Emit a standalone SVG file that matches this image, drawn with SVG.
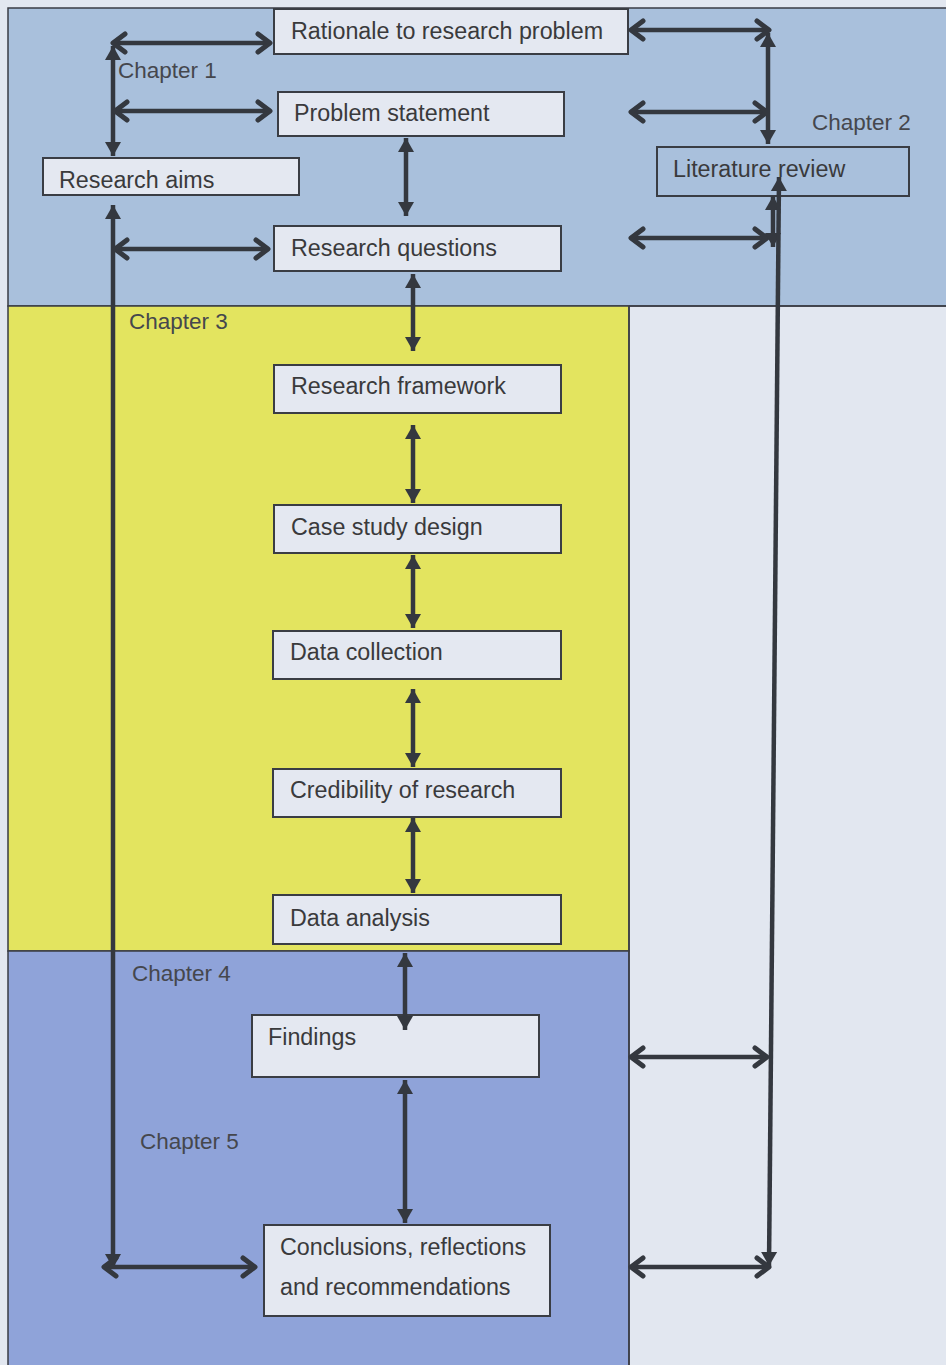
<svg xmlns="http://www.w3.org/2000/svg" width="946" height="1365" viewBox="0 0 946 1365">
  <style>
    .panel { stroke: #3a3d44; stroke-width: 1.5; }
    .box { fill: #e4e8f1; stroke: #3a3d44; stroke-width: 2; }
    .box-open { fill: none; stroke: #3a3d44; stroke-width: 2; }
    .label { font-family: "Liberation Sans", Arial, sans-serif; font-size: 23.3px; fill: #3a3a3c; }
    .chapter { font-family: "Liberation Sans", Arial, sans-serif; font-size: 22.5px; fill: #45474d; }
    .link { fill: none; stroke: #34383f; stroke-width: 4.5; }
    .vlink { fill: none; stroke: #34383f; stroke-width: 4.5; }
  </style>
  <defs>
    <!-- open chevron head, used on the horizontal links -->
    <marker id="chev" viewBox="-16 -12 19 24" refX="0" refY="0" markerWidth="19" markerHeight="24" markerUnits="userSpaceOnUse" orient="auto-start-reverse">
      <path d="M -12 -9 L 0 0 L -12 9" fill="none" stroke="#34383f" stroke-width="5" stroke-linecap="round" stroke-linejoin="round"/>
    </marker>
    <!-- solid triangular head, used on the vertical links -->
    <marker id="tri" viewBox="-15 -9 16 18" refX="0" refY="0" markerWidth="16" markerHeight="18" markerUnits="userSpaceOnUse" orient="auto-start-reverse">
      <path d="M -14 -8 L 0 0 L -14 8 Z" fill="#34383f"/>
    </marker>
  </defs>

  <!-- page and chapter panels -->
  <g id="panels">
    <rect x="0" y="0" width="946" height="1365" fill="#e2e7f0"/>
    <rect x="8" y="8" width="950" height="298" fill="#a9c0dc" class="panel"/>
    <rect x="8" y="306" width="621" height="645" fill="#e3e45f" class="panel"/>
    <rect x="8" y="951" width="621" height="420" fill="#8fa3d9" class="panel"/>
    <line x1="629" y1="306" x2="629" y2="1365" class="panel"/>
    <line x1="629" y1="306" x2="946" y2="306" class="panel"/>
  </g>

  <g id="chapter-labels">
    <text x="118" y="78" class="chapter">Chapter 1</text>
    <text x="812" y="130" class="chapter">Chapter 2</text>
    <text x="129" y="329" class="chapter">Chapter 3</text>
    <text x="132" y="981" class="chapter">Chapter 4</text>
    <text x="140" y="1149" class="chapter">Chapter 5</text>
  </g>

  <!-- nodes -->
  <g id="rationale">
    <rect x="274" y="9" width="354" height="45" class="box"/>
    <text x="291" y="39" class="label">Rationale to research problem</text>
  </g>
  <g id="problem-statement">
    <rect x="278" y="92" width="286" height="44" class="box"/>
    <text x="294" y="121" class="label">Problem statement</text>
  </g>
  <g id="research-aims">
    <rect x="43" y="158" width="256" height="37" class="box"/>
    <text x="59" y="188" class="label">Research aims</text>
  </g>
  <g id="literature-review">
    <rect x="657" y="147" width="252" height="49" class="box-open"/>
    <text x="673" y="177" class="label">Literature review</text>
  </g>
  <g id="research-questions">
    <rect x="274" y="226" width="287" height="45" class="box"/>
    <text x="291" y="256" class="label">Research questions</text>
  </g>
  <g id="research-framework">
    <rect x="274" y="365" width="287" height="48" class="box"/>
    <text x="291" y="394" class="label">Research framework</text>
  </g>
  <g id="case-study-design">
    <rect x="274" y="505" width="287" height="48" class="box"/>
    <text x="291" y="535" class="label">Case study design</text>
  </g>
  <g id="data-collection">
    <rect x="273" y="631" width="288" height="48" class="box"/>
    <text x="290" y="660" class="label">Data collection</text>
  </g>
  <g id="credibility">
    <rect x="273" y="769" width="288" height="48" class="box"/>
    <text x="290" y="798" class="label">Credibility of research</text>
  </g>
  <g id="data-analysis">
    <rect x="273" y="895" width="288" height="49" class="box"/>
    <text x="290" y="926" class="label">Data analysis</text>
  </g>
  <g id="findings">
    <rect x="252" y="1015" width="287" height="62" class="box"/>
    <text x="268" y="1045" class="label">Findings</text>
  </g>
  <g id="conclusions">
    <rect x="264" y="1225" width="286" height="91" class="box"/>
    <text x="280" y="1255" class="label">Conclusions, reflections</text>
    <text x="280" y="1295" class="label">and recommendations</text>
  </g>

  <!-- connectors, drawn over the boxes so heads that touch a box stay visible -->
  <g id="connectors">
    <!-- chapter 1 spine -->
    <line x1="113" y1="43" x2="270" y2="43" class="link" marker-start="url(#chev)" marker-end="url(#chev)"/>
    <line x1="113" y1="46" x2="113" y2="156" class="vlink" marker-start="url(#tri)" marker-end="url(#tri)"/>
    <line x1="115" y1="111" x2="270" y2="111" class="link" marker-start="url(#chev)" marker-end="url(#chev)"/>
    <line x1="115" y1="249" x2="268" y2="249" class="link" marker-start="url(#chev)" marker-end="url(#chev)"/>
    <line x1="113" y1="205" x2="113" y2="1268" class="vlink" marker-start="url(#tri)" marker-end="url(#tri)"/>
    <line x1="104" y1="1267" x2="255" y2="1267" class="link" marker-start="url(#chev)" marker-end="url(#chev)"/>

    <!-- central chain -->
    <line x1="406" y1="138" x2="406" y2="216" class="vlink" marker-start="url(#tri)" marker-end="url(#tri)"/>
    <line x1="413" y1="274" x2="413" y2="351" class="vlink" marker-start="url(#tri)" marker-end="url(#tri)"/>
    <line x1="413" y1="425" x2="413" y2="503" class="vlink" marker-start="url(#tri)" marker-end="url(#tri)"/>
    <line x1="413" y1="555" x2="413" y2="628" class="vlink" marker-start="url(#tri)" marker-end="url(#tri)"/>
    <line x1="413" y1="689" x2="413" y2="767" class="vlink" marker-start="url(#tri)" marker-end="url(#tri)"/>
    <line x1="413" y1="818" x2="413" y2="893" class="vlink" marker-start="url(#tri)" marker-end="url(#tri)"/>
    <line x1="405" y1="953" x2="405" y2="1030" class="vlink" marker-start="url(#tri)" marker-end="url(#tri)"/>
    <line x1="405" y1="1080" x2="405" y2="1223" class="vlink" marker-start="url(#tri)" marker-end="url(#tri)"/>

    <!-- chapter 2 spine -->
    <line x1="631" y1="30" x2="769" y2="30" class="link" marker-start="url(#chev)" marker-end="url(#chev)"/>
    <line x1="631" y1="112" x2="767" y2="112" class="link" marker-start="url(#chev)" marker-end="url(#chev)"/>
    <line x1="768" y1="33" x2="768" y2="144" class="vlink" marker-start="url(#tri)" marker-end="url(#tri)"/>
    <line x1="631" y1="238" x2="767" y2="238" class="link" marker-start="url(#chev)" marker-end="url(#chev)"/>
    <line x1="773" y1="196" x2="773" y2="247" class="vlink" marker-start="url(#tri)" marker-end="url(#tri)"/>
    <line x1="779" y1="177" x2="769" y2="1266" class="vlink" marker-start="url(#tri)" marker-end="url(#tri)"/>
    <line x1="631" y1="1057" x2="767" y2="1057" class="link" marker-start="url(#chev)" marker-end="url(#chev)"/>
    <line x1="631" y1="1267" x2="769" y2="1267" class="link" marker-start="url(#chev)" marker-end="url(#chev)"/>
  </g>
</svg>
